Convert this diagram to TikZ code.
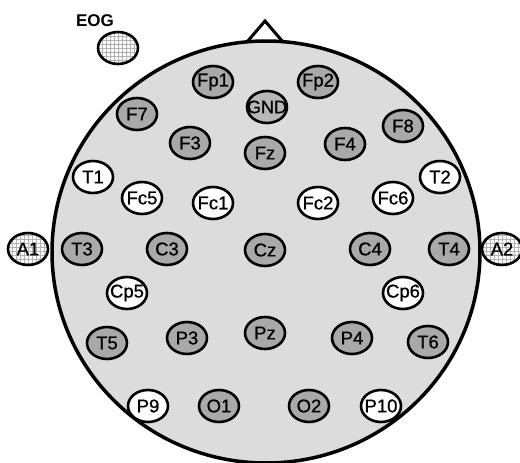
\documentclass[tikz,border=0pt]{standalone}
\usepackage{fontspec}
\setmainfont{Liberation Sans}
\newfontfamily\elfont[FakeBold=0.8]{Liberation Sans}
\usetikzlibrary{shapes.geometric}
\definecolor{headgray}{HTML}{DCDCDC}
\definecolor{elgray}{HTML}{A9A9A9}
\definecolor{gndgray}{HTML}{B8B8B8}
\begin{document}
\begin{tikzpicture}[x=1pt,y=-1pt,
  electrode/.style={ellipse,draw=black,line width=2.6pt,minimum width=40pt,minimum height=32pt,inner sep=-10pt,font=\elfont\fontsize{18.5}{18}\selectfont},
  darkel/.style={electrode,fill=elgray},
  whiteel/.style={electrode,fill=white},
  gridel/.style={electrode,fill=white,path picture={\draw[gray!60,line width=0.6pt] (path picture bounding box.south west) grid[step=4pt] (path picture bounding box.north east);}},
  head/.style={draw=black,line width=3.5pt,fill=headgray},
  nose/.style={draw=black,line width=3pt,line join=miter,fill=white}]
\useasboundingbox (0,0) rectangle (520,463);
% nose
\draw[nose] (247,42) -- (265,21) -- (283,42);
% head
\draw[head] (266,252) ellipse [x radius=214, y radius=211];
% EOG
\node[font=\bfseries\fontsize{17}{17}\selectfont] (eoglabel) at (95,21) {EOG};
\node[gridel] (EOG) at (118,48) {};
% ear references
\node[gridel] (A1) at (28,249) {A1};
\node[gridel] (A2) at (502,249) {A2};
% frontal
\node[darkel] (Fp1) at (213,82) {Fp1};
\node[darkel] (Fp2) at (318,82) {Fp2};
\node[electrode,fill=gndgray,font=\elfont\fontsize{18}{18}\selectfont] (GND) at (267,107) {GND};
\node[darkel] (F7) at (137,114) {F7};
\node[darkel] (F3) at (190,143) {F3};
\node[darkel] (Fz) at (265,153) {Fz};
\node[darkel] (F4) at (345,144) {F4};
\node[darkel] (F8) at (403,126) {F8};
% fronto-central / temporal
\node[whiteel] (T1) at (93,177) {T1};
\node[whiteel] (T2) at (440,177) {T2};
\node[whiteel] (Fc5) at (142,198) {Fc5};
\node[whiteel] (Fc1) at (213,203) {Fc1};
\node[whiteel] (Fc2) at (318,203) {Fc2};
\node[whiteel] (Fc6) at (393,198) {Fc6};
% central
\node[darkel] (T3) at (82,249) {T3};
\node[darkel] (C3) at (167,249) {C3};
\node[darkel] (Cz) at (265,250) {Cz};
\node[darkel] (C4) at (370,249) {C4};
\node[darkel] (T4) at (449,249) {T4};
% centro-parietal
\node[whiteel] (Cp5) at (127,293) {Cp5};
\node[whiteel] (Cp6) at (403,293) {Cp6};
% parietal
\node[darkel] (T5) at (107,343) {T5};
\node[darkel] (P3) at (187,338) {P3};
\node[darkel] (Pz) at (265,333) {Pz};
\node[darkel] (P4) at (352,338) {P4};
\node[darkel] (T6) at (428,342) {T6};
% occipital
\node[whiteel] (P9) at (148,406) {P9};
\node[darkel] (O1) at (219,406) {O1};
\node[darkel] (O2) at (309,406) {O2};
\node[whiteel] (P10) at (381,406) {P10};
\end{tikzpicture}
\end{document}
